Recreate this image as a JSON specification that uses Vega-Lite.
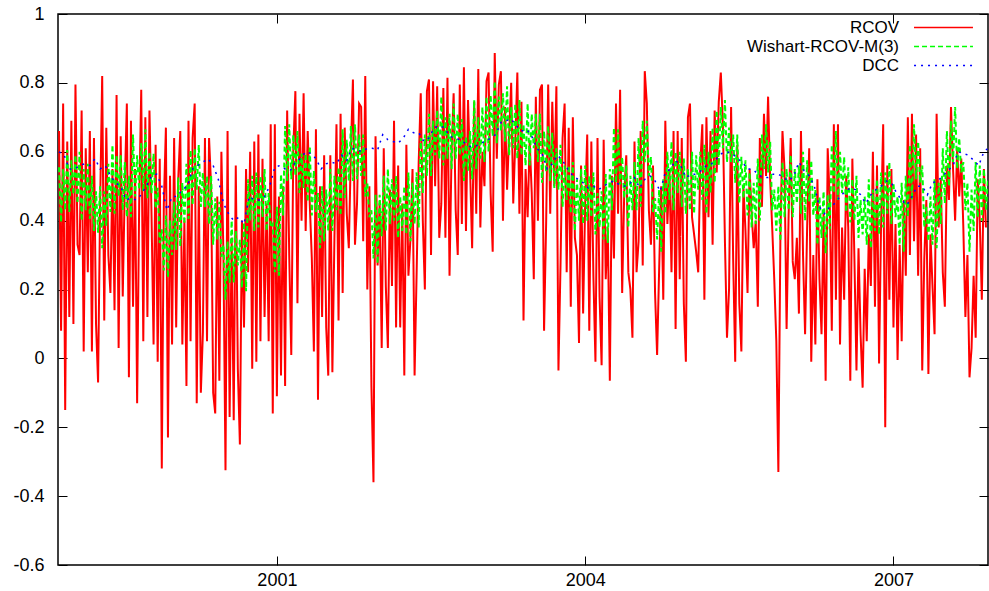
{
"$schema":"https://vega.github.io/schema/vega-lite/v6.json",
"width":930,"height":551,
"autosize":{"type":"none"},
"padding":{"left":58,"top":14,"right":1,"bottom":26},
"background":"white",
"config":{"view":{"stroke":"#000","strokeWidth":1.5},"font":"Liberation Sans"},
"datasets":{
"rcov":[
{"x":1998.88,"y":0.66},{"x":1998.9,"y":0.08},{"x":1998.92,"y":0.74},{"x":1998.94,"y":-0.15},{"x":1998.96,"y":0.63},{"x":1998.98,"y":0.12},{"x":1999.0,"y":0.69},{"x":1999.02,"y":0.1},{"x":1999.04,"y":0.795},{"x":1999.06,"y":0.33},
{"x":1999.08,"y":0.3},{"x":1999.1,"y":0.72},{"x":1999.12,"y":0.02},{"x":1999.14,"y":0.61},{"x":1999.16,"y":0.25},{"x":1999.18,"y":0.66},{"x":1999.2,"y":0.02},{"x":1999.22,"y":0.64},{"x":1999.24,"y":0.1},{"x":1999.26,"y":-0.07},
{"x":1999.28,"y":0.45},{"x":1999.3,"y":0.82},{"x":1999.32,"y":0.11},{"x":1999.34,"y":0.67},{"x":1999.36,"y":0.3},{"x":1999.38,"y":0.19},{"x":1999.4,"y":0.55},{"x":1999.42,"y":0.14},{"x":1999.44,"y":0.765},{"x":1999.46,"y":0.03},
{"x":1999.48,"y":0.645},{"x":1999.5,"y":0.18},{"x":1999.52,"y":0.5},{"x":1999.54,"y":0.74},{"x":1999.56,"y":-0.055},{"x":1999.58,"y":0.69},{"x":1999.6,"y":0.15},{"x":1999.62,"y":0.55},{"x":1999.64,"y":-0.13},{"x":1999.66,"y":0.45},
{"x":1999.68,"y":0.78},{"x":1999.7,"y":0.05},{"x":1999.72,"y":0.7},{"x":1999.74,"y":0.12},{"x":1999.76,"y":0.72},{"x":1999.78,"y":0.42},{"x":1999.8,"y":0.04},{"x":1999.82,"y":0.62},{"x":1999.84,"y":-0.01},{"x":1999.86,"y":0.58},
{"x":1999.88,"y":-0.32},{"x":1999.9,"y":0.45},{"x":1999.92,"y":0.67},{"x":1999.94,"y":-0.23},{"x":1999.96,"y":0.53},{"x":1999.98,"y":0.04},{"x":2000.0,"y":0.64},{"x":2000.02,"y":0.09},{"x":2000.04,"y":0.52},{"x":2000.06,"y":0.66},
{"x":2000.08,"y":0.04},{"x":2000.1,"y":0.4},{"x":2000.12,"y":-0.08},{"x":2000.14,"y":0.69},{"x":2000.16,"y":0.05},{"x":2000.18,"y":0.64},{"x":2000.2,"y":0.74},{"x":2000.22,"y":-0.13},{"x":2000.24,"y":0.5},{"x":2000.26,"y":-0.1},
{"x":2000.28,"y":0.075},{"x":2000.3,"y":0.64},{"x":2000.32,"y":0.05},{"x":2000.34,"y":0.64},{"x":2000.36,"y":0.5},{"x":2000.38,"y":-0.1},{"x":2000.4,"y":-0.16},{"x":2000.42,"y":0.47},{"x":2000.44,"y":-0.065},{"x":2000.46,"y":0.6},
{"x":2000.48,"y":0.3},{"x":2000.5,"y":-0.325},{"x":2000.52,"y":0.66},{"x":2000.54,"y":-0.17},{"x":2000.56,"y":0.35},{"x":2000.58,"y":-0.18},{"x":2000.6,"y":0.56},{"x":2000.62,"y":-0.03},{"x":2000.64,"y":-0.25},{"x":2000.66,"y":0.4},
{"x":2000.68,"y":0.09},{"x":2000.7,"y":0.55},{"x":2000.72,"y":0.25},{"x":2000.74,"y":0.6},{"x":2000.76,"y":-0.03},{"x":2000.78,"y":0.63},{"x":2000.8,"y":-0.01},{"x":2000.82,"y":0.65},{"x":2000.84,"y":0.05},{"x":2000.86,"y":0.58},
{"x":2000.88,"y":0.12},{"x":2000.9,"y":0.45},{"x":2000.92,"y":0.05},{"x":2000.94,"y":0.68},{"x":2000.96,"y":-0.16},{"x":2000.98,"y":0.68},{"x":2001.0,"y":-0.11},{"x":2001.02,"y":0.47},{"x":2001.04,"y":-0.05},{"x":2001.06,"y":0.5},
{"x":2001.08,"y":-0.08},{"x":2001.1,"y":0.72},{"x":2001.12,"y":0.3},{"x":2001.14,"y":0.01},{"x":2001.16,"y":0.61},{"x":2001.18,"y":0.776},{"x":2001.2,"y":0.16},{"x":2001.22,"y":0.71},{"x":2001.24,"y":0.4},{"x":2001.26,"y":0.77},
{"x":2001.28,"y":0.37},{"x":2001.3,"y":0.66},{"x":2001.32,"y":0.45},{"x":2001.34,"y":0.29},{"x":2001.36,"y":0.02},{"x":2001.38,"y":0.665},{"x":2001.4,"y":-0.12},{"x":2001.42,"y":0.5},{"x":2001.44,"y":0.12},{"x":2001.46,"y":0.59},
{"x":2001.48,"y":0.09},{"x":2001.5,"y":-0.05},{"x":2001.52,"y":0.59},{"x":2001.54,"y":-0.04},{"x":2001.56,"y":0.35},{"x":2001.58,"y":0.68},{"x":2001.6,"y":0.11},{"x":2001.62,"y":0.71},{"x":2001.64,"y":0.19},{"x":2001.66,"y":0.67},
{"x":2001.68,"y":0.42},{"x":2001.7,"y":0.32},{"x":2001.72,"y":0.6},{"x":2001.74,"y":0.81},{"x":2001.76,"y":0.33},{"x":2001.78,"y":0.45},{"x":2001.8,"y":0.74},{"x":2001.82,"y":0.73},{"x":2001.84,"y":0.34},{"x":2001.86,"y":0.82},
{"x":2001.88,"y":0.2},{"x":2001.9,"y":0.5},{"x":2001.92,"y":-0.08},{"x":2001.94,"y":-0.36},{"x":2001.96,"y":0.645},{"x":2001.98,"y":0.27},{"x":2002.0,"y":0.45},{"x":2002.02,"y":0.03},{"x":2002.04,"y":0.61},{"x":2002.06,"y":0.21},
{"x":2002.08,"y":0.03},{"x":2002.1,"y":0.49},{"x":2002.12,"y":0.21},{"x":2002.14,"y":0.69},{"x":2002.16,"y":0.09},{"x":2002.18,"y":0.56},{"x":2002.2,"y":0.09},{"x":2002.22,"y":0.45},{"x":2002.24,"y":-0.05},{"x":2002.26,"y":0.62},
{"x":2002.28,"y":0.24},{"x":2002.3,"y":0.35},{"x":2002.32,"y":0.55},{"x":2002.34,"y":-0.05},{"x":2002.36,"y":0.25},{"x":2002.38,"y":0.57},{"x":2002.4,"y":0.77},{"x":2002.42,"y":0.4},{"x":2002.44,"y":0.2},{"x":2002.46,"y":0.776},
{"x":2002.48,"y":0.81},{"x":2002.5,"y":0.3},{"x":2002.52,"y":0.805},{"x":2002.54,"y":0.5},{"x":2002.56,"y":0.79},{"x":2002.58,"y":0.35},{"x":2002.6,"y":0.45},{"x":2002.62,"y":0.785},{"x":2002.64,"y":0.35},{"x":2002.66,"y":0.815},
{"x":2002.68,"y":0.24},{"x":2002.7,"y":0.6},{"x":2002.72,"y":0.77},{"x":2002.74,"y":0.43},{"x":2002.76,"y":0.3},{"x":2002.78,"y":0.795},{"x":2002.8,"y":0.39},{"x":2002.82,"y":0.845},{"x":2002.84,"y":0.37},{"x":2002.86,"y":0.75},
{"x":2002.88,"y":0.55},{"x":2002.9,"y":0.32},{"x":2002.92,"y":0.745},{"x":2002.94,"y":0.42},{"x":2002.96,"y":0.84},{"x":2002.98,"y":0.38},{"x":2003.0,"y":0.6},{"x":2003.02,"y":0.5},{"x":2003.04,"y":0.805},{"x":2003.06,"y":0.83},
{"x":2003.08,"y":0.48},{"x":2003.1,"y":0.31},{"x":2003.12,"y":0.887},{"x":2003.14,"y":0.58},{"x":2003.16,"y":0.795},{"x":2003.18,"y":0.834},{"x":2003.2,"y":0.4},{"x":2003.22,"y":0.73},{"x":2003.24,"y":0.49},{"x":2003.26,"y":0.65},
{"x":2003.28,"y":0.8},{"x":2003.3,"y":0.45},{"x":2003.32,"y":0.63},{"x":2003.34,"y":0.83},{"x":2003.36,"y":0.42},{"x":2003.38,"y":0.745},{"x":2003.4,"y":0.11},{"x":2003.42,"y":0.55},{"x":2003.44,"y":0.41},{"x":2003.46,"y":0.63},
{"x":2003.48,"y":0.48},{"x":2003.5,"y":0.23},{"x":2003.52,"y":0.76},{"x":2003.54,"y":0.4},{"x":2003.56,"y":0.78},{"x":2003.58,"y":0.795},{"x":2003.6,"y":0.08},{"x":2003.62,"y":0.39},{"x":2003.64,"y":0.795},{"x":2003.66,"y":0.42},
{"x":2003.68,"y":0.745},{"x":2003.7,"y":0.5},{"x":2003.72,"y":0.79},{"x":2003.74,"y":-0.035},{"x":2003.76,"y":0.27},{"x":2003.78,"y":0.64},{"x":2003.8,"y":0.74},{"x":2003.82,"y":0.25},{"x":2003.84,"y":0.67},{"x":2003.86,"y":0.15},
{"x":2003.88,"y":0.7},{"x":2003.9,"y":0.35},{"x":2003.92,"y":0.3},{"x":2003.94,"y":0.045},{"x":2003.96,"y":0.56},{"x":2003.98,"y":0.13},{"x":2004.0,"y":0.45},{"x":2004.02,"y":0.65},{"x":2004.04,"y":0.08},{"x":2004.06,"y":0.63},
{"x":2004.08,"y":0.24},{"x":2004.1,"y":-0.01},{"x":2004.12,"y":0.64},{"x":2004.14,"y":0.18},{"x":2004.16,"y":-0.02},{"x":2004.18,"y":0.635},{"x":2004.2,"y":0.23},{"x":2004.22,"y":0.38},{"x":2004.24,"y":-0.065},{"x":2004.26,"y":0.53},
{"x":2004.28,"y":0.29},{"x":2004.3,"y":0.74},{"x":2004.32,"y":0.42},{"x":2004.34,"y":0.78},{"x":2004.36,"y":0.19},{"x":2004.38,"y":0.48},{"x":2004.4,"y":0.59},{"x":2004.42,"y":0.25},{"x":2004.44,"y":0.2},{"x":2004.46,"y":0.06},
{"x":2004.48,"y":0.63},{"x":2004.5,"y":0.25},{"x":2004.52,"y":0.34},{"x":2004.54,"y":0.66},{"x":2004.56,"y":0.27},{"x":2004.58,"y":0.834},{"x":2004.6,"y":0.74},{"x":2004.62,"y":0.43},{"x":2004.64,"y":0.33},{"x":2004.66,"y":0.56},
{"x":2004.68,"y":0.19},{"x":2004.7,"y":0.01},{"x":2004.72,"y":0.26},{"x":2004.74,"y":0.5},{"x":2004.76,"y":0.17},{"x":2004.78,"y":0.69},{"x":2004.8,"y":0.39},{"x":2004.82,"y":0.55},{"x":2004.84,"y":0.25},{"x":2004.86,"y":0.66},
{"x":2004.88,"y":0.085},{"x":2004.9,"y":0.66},{"x":2004.92,"y":0.23},{"x":2004.94,"y":0.64},{"x":2004.96,"y":0.16},{"x":2004.98,"y":-0.01},{"x":2005.0,"y":0.7},{"x":2005.02,"y":0.74},{"x":2005.04,"y":0.41},{"x":2005.06,"y":0.36},
{"x":2005.08,"y":0.31},{"x":2005.1,"y":0.25},{"x":2005.12,"y":0.56},{"x":2005.14,"y":0.68},{"x":2005.16,"y":0.17},{"x":2005.18,"y":0.7},{"x":2005.2,"y":0.41},{"x":2005.22,"y":0.66},{"x":2005.24,"y":0.33},{"x":2005.26,"y":0.72},
{"x":2005.28,"y":0.54},{"x":2005.3,"y":0.745},{"x":2005.32,"y":0.83},{"x":2005.34,"y":0.68},{"x":2005.36,"y":0.34},{"x":2005.38,"y":0.06},{"x":2005.4,"y":0.2},{"x":2005.42,"y":0.73},{"x":2005.44,"y":0.29},{"x":2005.46,"y":-0.01},
{"x":2005.48,"y":0.62},{"x":2005.5,"y":0.16},{"x":2005.52,"y":0.02},{"x":2005.54,"y":0.5},{"x":2005.56,"y":0.37},{"x":2005.58,"y":0.19},{"x":2005.6,"y":0.55},{"x":2005.62,"y":0.42},{"x":2005.64,"y":0.32},{"x":2005.66,"y":0.4},
{"x":2005.68,"y":0.15},{"x":2005.7,"y":0.64},{"x":2005.72,"y":0.44},{"x":2005.74,"y":0.71},{"x":2005.76,"y":0.53},{"x":2005.78,"y":0.76},{"x":2005.8,"y":0.52},{"x":2005.82,"y":0.38},{"x":2005.84,"y":0.23},{"x":2005.86,"y":0.05},
{"x":2005.88,"y":-0.33},{"x":2005.9,"y":0.36},{"x":2005.92,"y":0.66},{"x":2005.94,"y":0.55},{"x":2005.96,"y":0.085},{"x":2005.98,"y":0.42},{"x":2006.0,"y":0.64},{"x":2006.02,"y":0.28},{"x":2006.04,"y":0.23},{"x":2006.06,"y":0.35},
{"x":2006.08,"y":0.13},{"x":2006.1,"y":0.66},{"x":2006.12,"y":0.3},{"x":2006.14,"y":0.07},{"x":2006.16,"y":0.38},{"x":2006.18,"y":0.61},{"x":2006.2,"y":-0.01},{"x":2006.22,"y":0.3},{"x":2006.24,"y":0.04},{"x":2006.26,"y":0.52},
{"x":2006.28,"y":0.23},{"x":2006.3,"y":0.07},{"x":2006.32,"y":0.42},{"x":2006.34,"y":-0.065},{"x":2006.36,"y":0.61},{"x":2006.38,"y":0.46},{"x":2006.4,"y":0.08},{"x":2006.42,"y":0.68},{"x":2006.44,"y":0.17},{"x":2006.46,"y":0.68},
{"x":2006.48,"y":0.04},{"x":2006.5,"y":0.38},{"x":2006.52,"y":0.17},{"x":2006.54,"y":0.53},{"x":2006.56,"y":0.38},{"x":2006.58,"y":-0.065},{"x":2006.6,"y":0.58},{"x":2006.62,"y":0.29},{"x":2006.64,"y":-0.035},{"x":2006.66,"y":0.32},
{"x":2006.68,"y":0.07},{"x":2006.7,"y":-0.085},{"x":2006.72,"y":0.26},{"x":2006.74,"y":0.05},{"x":2006.76,"y":0.36},{"x":2006.78,"y":0.21},{"x":2006.8,"y":0.6},{"x":2006.82,"y":0.15},{"x":2006.84,"y":0.56},{"x":2006.86,"y":-0.015},
{"x":2006.88,"y":0.4},{"x":2006.9,"y":0.68},{"x":2006.92,"y":-0.2},{"x":2006.94,"y":0.56},{"x":2006.96,"y":0.17},{"x":2006.98,"y":0.55},{"x":2007.0,"y":0.09},{"x":2007.02,"y":0.39},{"x":2007.04,"y":-0.005},{"x":2007.06,"y":0.33},
{"x":2007.08,"y":0.05},{"x":2007.1,"y":0.46},{"x":2007.12,"y":0.24},{"x":2007.14,"y":0.7},{"x":2007.16,"y":0.3},{"x":2007.18,"y":0.71},{"x":2007.2,"y":0.34},{"x":2007.22,"y":0.65},{"x":2007.24,"y":0.24},{"x":2007.26,"y":0.61},
{"x":2007.28,"y":-0.035},{"x":2007.3,"y":0.29},{"x":2007.32,"y":0.46},{"x":2007.34,"y":-0.045},{"x":2007.36,"y":0.36},{"x":2007.38,"y":0.21},{"x":2007.4,"y":0.07},{"x":2007.42,"y":0.71},{"x":2007.44,"y":0.38},{"x":2007.46,"y":0.52},
{"x":2007.48,"y":0.25},{"x":2007.5,"y":0.15},{"x":2007.52,"y":0.56},{"x":2007.54,"y":0.46},{"x":2007.56,"y":0.73},{"x":2007.58,"y":0.55},{"x":2007.6,"y":0.4},{"x":2007.62,"y":0.61},{"x":2007.64,"y":0.47},{"x":2007.66,"y":0.58},
{"x":2007.68,"y":0.38},{"x":2007.7,"y":0.12},{"x":2007.72,"y":0.3},{"x":2007.74,"y":-0.055},{"x":2007.76,"y":0.03},{"x":2007.78,"y":0.24},{"x":2007.8,"y":0.06},{"x":2007.82,"y":0.52},{"x":2007.84,"y":0.4},{"x":2007.86,"y":0.17},
{"x":2007.88,"y":0.55},{"x":2007.9,"y":0.38}
],
"wish":[
{"x":1998.88,"y":0.555},{"x":1998.9,"y":0.395},{"x":1998.92,"y":0.55},{"x":1998.94,"y":0.43},{"x":1998.96,"y":0.605},{"x":1998.98,"y":0.425},
{"x":1999.0,"y":0.575},{"x":1999.02,"y":0.475},{"x":1999.04,"y":0.59},{"x":1999.06,"y":0.45},{"x":1999.08,"y":0.6},{"x":1999.1,"y":0.4},{"x":1999.12,"y":0.55},{"x":1999.14,"y":0.43},{"x":1999.16,"y":0.565},{"x":1999.18,"y":0.405},
{"x":1999.2,"y":0.53},{"x":1999.22,"y":0.37},{"x":1999.24,"y":0.485},{"x":1999.26,"y":0.365},{"x":1999.28,"y":0.5},{"x":1999.3,"y":0.32},{"x":1999.32,"y":0.485},{"x":1999.34,"y":0.385},{"x":1999.36,"y":0.565},{"x":1999.38,"y":0.425},
{"x":1999.4,"y":0.62},{"x":1999.42,"y":0.42},{"x":1999.44,"y":0.59},{"x":1999.46,"y":0.47},{"x":1999.48,"y":0.59},{"x":1999.5,"y":0.43},{"x":1999.52,"y":0.57},{"x":1999.54,"y":0.41},{"x":1999.56,"y":0.53},{"x":1999.58,"y":0.41},
{"x":1999.6,"y":0.65},{"x":1999.62,"y":0.47},{"x":1999.64,"y":0.59},{"x":1999.66,"y":0.49},{"x":1999.68,"y":0.625},{"x":1999.7,"y":0.485},{"x":1999.72,"y":0.665},{"x":1999.74,"y":0.465},{"x":1999.76,"y":0.6},{"x":1999.78,"y":0.48},
{"x":1999.8,"y":0.595},{"x":1999.82,"y":0.435},{"x":1999.84,"y":0.495},{"x":1999.86,"y":0.335},{"x":1999.88,"y":0.375},{"x":1999.9,"y":0.255},{"x":1999.92,"y":0.415},{"x":1999.94,"y":0.235},{"x":1999.96,"y":0.4},{"x":1999.98,"y":0.3},
{"x":2000.0,"y":0.455},{"x":2000.02,"y":0.315},{"x":2000.04,"y":0.525},{"x":2000.06,"y":0.325},{"x":2000.08,"y":0.51},{"x":2000.1,"y":0.39},{"x":2000.12,"y":0.565},{"x":2000.14,"y":0.405},{"x":2000.16,"y":0.605},{"x":2000.18,"y":0.445},
{"x":2000.2,"y":0.61},{"x":2000.22,"y":0.49},{"x":2000.24,"y":0.62},{"x":2000.26,"y":0.44},{"x":2000.28,"y":0.54},{"x":2000.3,"y":0.44},{"x":2000.32,"y":0.53},{"x":2000.34,"y":0.39},{"x":2000.36,"y":0.53},{"x":2000.38,"y":0.33},
{"x":2000.4,"y":0.465},{"x":2000.42,"y":0.345},{"x":2000.44,"y":0.455},{"x":2000.46,"y":0.295},{"x":2000.48,"y":0.33},{"x":2000.5,"y":0.17},{"x":2000.52,"y":0.34},{"x":2000.54,"y":0.22},{"x":2000.56,"y":0.4},{"x":2000.58,"y":0.22},
{"x":2000.6,"y":0.37},{"x":2000.62,"y":0.27},{"x":2000.64,"y":0.345},{"x":2000.66,"y":0.205},{"x":2000.68,"y":0.395},{"x":2000.7,"y":0.195},{"x":2000.72,"y":0.52},{"x":2000.74,"y":0.4},{"x":2000.76,"y":0.53},{"x":2000.78,"y":0.37},
{"x":2000.8,"y":0.54},{"x":2000.82,"y":0.38},{"x":2000.84,"y":0.53},{"x":2000.86,"y":0.41},{"x":2000.88,"y":0.55},{"x":2000.9,"y":0.37},{"x":2000.92,"y":0.48},{"x":2000.94,"y":0.38},{"x":2000.96,"y":0.39},{"x":2000.98,"y":0.25},
{"x":2001.0,"y":0.44},{"x":2001.02,"y":0.24},{"x":2001.04,"y":0.535},{"x":2001.06,"y":0.415},{"x":2001.08,"y":0.675},{"x":2001.1,"y":0.515},{"x":2001.12,"y":0.68},{"x":2001.14,"y":0.52},{"x":2001.16,"y":0.65},{"x":2001.18,"y":0.53},
{"x":2001.2,"y":0.66},{"x":2001.22,"y":0.48},{"x":2001.24,"y":0.595},{"x":2001.26,"y":0.495},{"x":2001.28,"y":0.595},{"x":2001.3,"y":0.455},{"x":2001.32,"y":0.615},{"x":2001.34,"y":0.415},{"x":2001.36,"y":0.545},{"x":2001.38,"y":0.425},
{"x":2001.4,"y":0.48},{"x":2001.42,"y":0.32},{"x":2001.44,"y":0.5},{"x":2001.46,"y":0.34},{"x":2001.48,"y":0.49},{"x":2001.5,"y":0.37},{"x":2001.52,"y":0.55},{"x":2001.54,"y":0.37},{"x":2001.56,"y":0.53},{"x":2001.58,"y":0.43},
{"x":2001.6,"y":0.555},{"x":2001.62,"y":0.415},{"x":2001.64,"y":0.665},{"x":2001.66,"y":0.465},{"x":2001.68,"y":0.635},{"x":2001.7,"y":0.515},{"x":2001.72,"y":0.675},{"x":2001.74,"y":0.515},{"x":2001.76,"y":0.68},{"x":2001.78,"y":0.52},
{"x":2001.8,"y":0.65},{"x":2001.82,"y":0.53},{"x":2001.84,"y":0.65},{"x":2001.86,"y":0.47},{"x":2001.88,"y":0.51},{"x":2001.9,"y":0.41},{"x":2001.92,"y":0.43},{"x":2001.94,"y":0.29},{"x":2001.96,"y":0.475},{"x":2001.98,"y":0.275},
{"x":2002.0,"y":0.475},{"x":2002.02,"y":0.355},{"x":2002.04,"y":0.53},{"x":2002.06,"y":0.37},{"x":2002.08,"y":0.55},{"x":2002.1,"y":0.39},{"x":2002.12,"y":0.52},{"x":2002.14,"y":0.4},{"x":2002.16,"y":0.53},{"x":2002.18,"y":0.35},
{"x":2002.2,"y":0.47},{"x":2002.22,"y":0.37},{"x":2002.24,"y":0.5},{"x":2002.26,"y":0.36},{"x":2002.28,"y":0.54},{"x":2002.3,"y":0.34},{"x":2002.32,"y":0.51},{"x":2002.34,"y":0.39},{"x":2002.36,"y":0.54},{"x":2002.38,"y":0.38},
{"x":2002.4,"y":0.64},{"x":2002.42,"y":0.48},{"x":2002.44,"y":0.65},{"x":2002.46,"y":0.53},{"x":2002.48,"y":0.71},{"x":2002.5,"y":0.53},{"x":2002.52,"y":0.69},{"x":2002.54,"y":0.59},{"x":2002.56,"y":0.72},{"x":2002.58,"y":0.58},
{"x":2002.6,"y":0.76},{"x":2002.62,"y":0.56},{"x":2002.64,"y":0.7},{"x":2002.66,"y":0.58},{"x":2002.68,"y":0.71},{"x":2002.7,"y":0.55},{"x":2002.72,"y":0.74},{"x":2002.74,"y":0.58},{"x":2002.76,"y":0.71},{"x":2002.78,"y":0.59},
{"x":2002.8,"y":0.695},{"x":2002.82,"y":0.515},{"x":2002.84,"y":0.645},{"x":2002.86,"y":0.545},{"x":2002.88,"y":0.66},{"x":2002.9,"y":0.52},{"x":2002.92,"y":0.75},{"x":2002.94,"y":0.55},{"x":2002.96,"y":0.7},{"x":2002.98,"y":0.58},
{"x":2003.0,"y":0.73},{"x":2003.02,"y":0.57},{"x":2003.04,"y":0.76},{"x":2003.06,"y":0.6},{"x":2003.08,"y":0.765},{"x":2003.1,"y":0.645},{"x":2003.12,"y":0.805},{"x":2003.14,"y":0.625},{"x":2003.16,"y":0.76},{"x":2003.18,"y":0.66},
{"x":2003.2,"y":0.77},{"x":2003.22,"y":0.63},{"x":2003.24,"y":0.79},{"x":2003.26,"y":0.59},{"x":2003.28,"y":0.73},{"x":2003.3,"y":0.61},{"x":2003.32,"y":0.74},{"x":2003.34,"y":0.58},{"x":2003.36,"y":0.75},{"x":2003.38,"y":0.59},
{"x":2003.4,"y":0.68},{"x":2003.42,"y":0.56},{"x":2003.44,"y":0.74},{"x":2003.46,"y":0.56},{"x":2003.48,"y":0.71},{"x":2003.5,"y":0.61},{"x":2003.52,"y":0.71},{"x":2003.54,"y":0.57},{"x":2003.56,"y":0.71},{"x":2003.58,"y":0.51},
{"x":2003.6,"y":0.66},{"x":2003.62,"y":0.54},{"x":2003.64,"y":0.675},{"x":2003.66,"y":0.515},{"x":2003.68,"y":0.655},{"x":2003.7,"y":0.495},{"x":2003.72,"y":0.61},{"x":2003.74,"y":0.49},{"x":2003.76,"y":0.62},{"x":2003.78,"y":0.44},
{"x":2003.8,"y":0.56},{"x":2003.82,"y":0.46},{"x":2003.84,"y":0.56},{"x":2003.86,"y":0.42},{"x":2003.88,"y":0.57},{"x":2003.9,"y":0.37},{"x":2003.92,"y":0.52},{"x":2003.94,"y":0.4},{"x":2003.96,"y":0.55},{"x":2003.98,"y":0.39},
{"x":2004.0,"y":0.56},{"x":2004.02,"y":0.4},{"x":2004.04,"y":0.53},{"x":2004.06,"y":0.41},{"x":2004.08,"y":0.54},{"x":2004.1,"y":0.36},{"x":2004.12,"y":0.48},{"x":2004.14,"y":0.38},{"x":2004.16,"y":0.485},{"x":2004.18,"y":0.345},
{"x":2004.2,"y":0.535},{"x":2004.22,"y":0.335},{"x":2004.24,"y":0.55},{"x":2004.26,"y":0.43},{"x":2004.28,"y":0.67},{"x":2004.3,"y":0.51},{"x":2004.32,"y":0.665},{"x":2004.34,"y":0.505},{"x":2004.36,"y":0.585},{"x":2004.38,"y":0.465},
{"x":2004.4,"y":0.56},{"x":2004.42,"y":0.38},{"x":2004.44,"y":0.53},{"x":2004.46,"y":0.43},{"x":2004.48,"y":0.57},{"x":2004.5,"y":0.43},{"x":2004.52,"y":0.64},{"x":2004.54,"y":0.44},{"x":2004.56,"y":0.69},{"x":2004.58,"y":0.57},
{"x":2004.6,"y":0.69},{"x":2004.62,"y":0.53},{"x":2004.64,"y":0.585},{"x":2004.66,"y":0.425},{"x":2004.68,"y":0.465},{"x":2004.7,"y":0.345},{"x":2004.72,"y":0.49},{"x":2004.74,"y":0.31},{"x":2004.76,"y":0.52},{"x":2004.78,"y":0.42},
{"x":2004.8,"y":0.6},{"x":2004.82,"y":0.46},{"x":2004.84,"y":0.63},{"x":2004.86,"y":0.43},{"x":2004.88,"y":0.6},{"x":2004.9,"y":0.48},{"x":2004.92,"y":0.6},{"x":2004.94,"y":0.44},{"x":2004.96,"y":0.58},{"x":2004.98,"y":0.42},
{"x":2005.0,"y":0.55},{"x":2005.02,"y":0.43},{"x":2005.04,"y":0.6},{"x":2005.06,"y":0.42},{"x":2005.08,"y":0.59},{"x":2005.1,"y":0.49},{"x":2005.12,"y":0.6},{"x":2005.14,"y":0.46},{"x":2005.16,"y":0.62},{"x":2005.18,"y":0.42},
{"x":2005.2,"y":0.6},{"x":2005.22,"y":0.48},{"x":2005.24,"y":0.67},{"x":2005.26,"y":0.51},{"x":2005.28,"y":0.72},{"x":2005.3,"y":0.56},{"x":2005.32,"y":0.73},{"x":2005.34,"y":0.61},{"x":2005.36,"y":0.75},{"x":2005.38,"y":0.57},
{"x":2005.4,"y":0.67},{"x":2005.42,"y":0.57},{"x":2005.44,"y":0.65},{"x":2005.46,"y":0.51},{"x":2005.48,"y":0.65},{"x":2005.5,"y":0.45},{"x":2005.52,"y":0.585},{"x":2005.54,"y":0.465},{"x":2005.56,"y":0.575},{"x":2005.58,"y":0.415},
{"x":2005.6,"y":0.54},{"x":2005.62,"y":0.38},{"x":2005.64,"y":0.51},{"x":2005.66,"y":0.39},{"x":2005.68,"y":0.58},{"x":2005.7,"y":0.4},{"x":2005.72,"y":0.65},{"x":2005.74,"y":0.55},{"x":2005.76,"y":0.68},{"x":2005.78,"y":0.54},
{"x":2005.8,"y":0.63},{"x":2005.82,"y":0.43},{"x":2005.84,"y":0.49},{"x":2005.86,"y":0.37},{"x":2005.88,"y":0.5},{"x":2005.9,"y":0.34},{"x":2005.92,"y":0.57},{"x":2005.94,"y":0.41},{"x":2005.96,"y":0.55},{"x":2005.98,"y":0.43},
{"x":2006.0,"y":0.59},{"x":2006.02,"y":0.41},{"x":2006.04,"y":0.55},{"x":2006.06,"y":0.45},{"x":2006.08,"y":0.56},{"x":2006.1,"y":0.42},{"x":2006.12,"y":0.6},{"x":2006.14,"y":0.4},{"x":2006.16,"y":0.575},{"x":2006.18,"y":0.455},
{"x":2006.2,"y":0.575},{"x":2006.22,"y":0.415},{"x":2006.24,"y":0.49},{"x":2006.26,"y":0.33},{"x":2006.28,"y":0.47},{"x":2006.3,"y":0.35},{"x":2006.32,"y":0.485},{"x":2006.34,"y":0.305},{"x":2006.36,"y":0.475},{"x":2006.38,"y":0.375},
{"x":2006.4,"y":0.62},{"x":2006.42,"y":0.48},{"x":2006.44,"y":0.66},{"x":2006.46,"y":0.46},{"x":2006.48,"y":0.6},{"x":2006.5,"y":0.48},{"x":2006.52,"y":0.585},{"x":2006.54,"y":0.425},{"x":2006.56,"y":0.555},{"x":2006.58,"y":0.395},
{"x":2006.6,"y":0.52},{"x":2006.62,"y":0.4},{"x":2006.64,"y":0.53},{"x":2006.66,"y":0.35},{"x":2006.68,"y":0.46},{"x":2006.7,"y":0.36},{"x":2006.72,"y":0.47},{"x":2006.74,"y":0.33},{"x":2006.76,"y":0.52},{"x":2006.78,"y":0.32},
{"x":2006.8,"y":0.49},{"x":2006.82,"y":0.37},{"x":2006.84,"y":0.52},{"x":2006.86,"y":0.36},{"x":2006.88,"y":0.54},{"x":2006.9,"y":0.38},{"x":2006.92,"y":0.54},{"x":2006.94,"y":0.42},{"x":2006.96,"y":0.57},{"x":2006.98,"y":0.39},
{"x":2007.0,"y":0.51},{"x":2007.02,"y":0.41},{"x":2007.04,"y":0.47},{"x":2007.06,"y":0.33},{"x":2007.08,"y":0.51},{"x":2007.1,"y":0.31},{"x":2007.12,"y":0.53},{"x":2007.14,"y":0.41},{"x":2007.16,"y":0.62},{"x":2007.18,"y":0.46},
{"x":2007.2,"y":0.68},{"x":2007.22,"y":0.52},{"x":2007.24,"y":0.63},{"x":2007.26,"y":0.51},{"x":2007.28,"y":0.56},{"x":2007.3,"y":0.38},{"x":2007.32,"y":0.44},{"x":2007.34,"y":0.34},{"x":2007.36,"y":0.47},{"x":2007.38,"y":0.33},
{"x":2007.4,"y":0.52},{"x":2007.42,"y":0.32},{"x":2007.44,"y":0.51},{"x":2007.46,"y":0.39},{"x":2007.48,"y":0.61},{"x":2007.5,"y":0.45},{"x":2007.52,"y":0.66},{"x":2007.54,"y":0.5},{"x":2007.56,"y":0.69},{"x":2007.58,"y":0.57},
{"x":2007.6,"y":0.73},{"x":2007.62,"y":0.55},{"x":2007.64,"y":0.64},{"x":2007.66,"y":0.54},{"x":2007.68,"y":0.57},{"x":2007.7,"y":0.43},{"x":2007.72,"y":0.51},{"x":2007.74,"y":0.31},{"x":2007.76,"y":0.49},{"x":2007.78,"y":0.37},
{"x":2007.8,"y":0.57},{"x":2007.82,"y":0.41},{"x":2007.84,"y":0.56},{"x":2007.86,"y":0.4},{"x":2007.88,"y":0.55},{"x":2007.9,"y":0.43},{"x":2007.92,"y":0.52}
],
"dcc":[
{"x":1998.88,"y":0.6},{"x":1998.93,"y":0.59},{"x":1998.98,"y":0.55},{"x":1999.03,"y":0.55},{"x":1999.08,"y":0.56},{"x":1999.13,"y":0.565},{"x":1999.18,"y":0.56},{"x":1999.23,"y":0.58},{"x":1999.28,"y":0.55},{"x":1999.33,"y":0.56},
{"x":1999.38,"y":0.53},{"x":1999.43,"y":0.51},{"x":1999.48,"y":0.5},{"x":1999.53,"y":0.46},{"x":1999.58,"y":0.465},{"x":1999.63,"y":0.46},{"x":1999.68,"y":0.475},{"x":1999.73,"y":0.5},{"x":1999.78,"y":0.53},{"x":1999.83,"y":0.535},
{"x":1999.88,"y":0.5},{"x":1999.93,"y":0.43},{"x":1999.98,"y":0.47},{"x":2000.03,"y":0.47},{"x":2000.08,"y":0.49},{"x":2000.13,"y":0.5},{"x":2000.18,"y":0.55},{"x":2000.23,"y":0.56},{"x":2000.28,"y":0.57},{"x":2000.33,"y":0.58},
{"x":2000.38,"y":0.56},{"x":2000.43,"y":0.52},{"x":2000.48,"y":0.45},{"x":2000.53,"y":0.42},{"x":2000.58,"y":0.4},{"x":2000.63,"y":0.41},{"x":2000.68,"y":0.39},{"x":2000.73,"y":0.47},{"x":2000.78,"y":0.46},{"x":2000.83,"y":0.46},
{"x":2000.88,"y":0.47},{"x":2000.93,"y":0.5},{"x":2000.98,"y":0.555},{"x":2001.03,"y":0.56},{"x":2001.08,"y":0.55},{"x":2001.13,"y":0.545},{"x":2001.18,"y":0.57},{"x":2001.23,"y":0.58},{"x":2001.28,"y":0.6},{"x":2001.33,"y":0.595},
{"x":2001.38,"y":0.58},{"x":2001.43,"y":0.55},{"x":2001.48,"y":0.565},{"x":2001.53,"y":0.57},{"x":2001.58,"y":0.565},{"x":2001.63,"y":0.59},{"x":2001.68,"y":0.575},{"x":2001.73,"y":0.61},{"x":2001.78,"y":0.605},{"x":2001.83,"y":0.6},
{"x":2001.88,"y":0.61},{"x":2001.93,"y":0.61},{"x":2001.98,"y":0.605},{"x":2002.03,"y":0.65},{"x":2002.08,"y":0.635},{"x":2002.13,"y":0.63},{"x":2002.18,"y":0.625},{"x":2002.23,"y":0.64},{"x":2002.28,"y":0.665},{"x":2002.33,"y":0.655},
{"x":2002.38,"y":0.655},{"x":2002.43,"y":0.63},{"x":2002.48,"y":0.64},{"x":2002.53,"y":0.67},{"x":2002.58,"y":0.675},{"x":2002.63,"y":0.67},{"x":2002.68,"y":0.645},{"x":2002.73,"y":0.64},{"x":2002.78,"y":0.635},{"x":2002.83,"y":0.625},
{"x":2002.88,"y":0.615},{"x":2002.93,"y":0.615},{"x":2002.98,"y":0.625},{"x":2003.03,"y":0.63},{"x":2003.08,"y":0.64},{"x":2003.13,"y":0.65},{"x":2003.18,"y":0.685},{"x":2003.23,"y":0.69},{"x":2003.28,"y":0.695},{"x":2003.33,"y":0.675},
{"x":2003.38,"y":0.66},{"x":2003.43,"y":0.665},{"x":2003.48,"y":0.645},{"x":2003.53,"y":0.61},{"x":2003.58,"y":0.595},{"x":2003.63,"y":0.55},{"x":2003.68,"y":0.565},{"x":2003.73,"y":0.59},{"x":2003.78,"y":0.575},{"x":2003.83,"y":0.55},
{"x":2003.88,"y":0.53},{"x":2003.93,"y":0.52},{"x":2003.98,"y":0.51},{"x":2004.03,"y":0.495},{"x":2004.08,"y":0.5},{"x":2004.13,"y":0.49},{"x":2004.18,"y":0.5},{"x":2004.23,"y":0.51},{"x":2004.28,"y":0.515},{"x":2004.33,"y":0.505},
{"x":2004.38,"y":0.5},{"x":2004.43,"y":0.505},{"x":2004.48,"y":0.525},{"x":2004.53,"y":0.495},{"x":2004.58,"y":0.52},{"x":2004.63,"y":0.53},{"x":2004.68,"y":0.515},{"x":2004.73,"y":0.485},{"x":2004.78,"y":0.54},{"x":2004.83,"y":0.55},
{"x":2004.88,"y":0.575},{"x":2004.93,"y":0.56},{"x":2004.98,"y":0.525},{"x":2005.03,"y":0.535},{"x":2005.08,"y":0.535},{"x":2005.13,"y":0.545},{"x":2005.18,"y":0.56},{"x":2005.23,"y":0.565},{"x":2005.28,"y":0.58},{"x":2005.33,"y":0.595},
{"x":2005.38,"y":0.6},{"x":2005.43,"y":0.595},{"x":2005.48,"y":0.58},{"x":2005.53,"y":0.57},{"x":2005.58,"y":0.55},{"x":2005.63,"y":0.55},{"x":2005.68,"y":0.535},{"x":2005.73,"y":0.525},{"x":2005.78,"y":0.525},{"x":2005.83,"y":0.535},
{"x":2005.88,"y":0.535},{"x":2005.93,"y":0.525},{"x":2005.98,"y":0.515},{"x":2006.03,"y":0.53},{"x":2006.08,"y":0.57},{"x":2006.13,"y":0.545},{"x":2006.18,"y":0.53},{"x":2006.23,"y":0.5},{"x":2006.28,"y":0.44},{"x":2006.33,"y":0.42},
{"x":2006.38,"y":0.44},{"x":2006.43,"y":0.45},{"x":2006.48,"y":0.47},{"x":2006.53,"y":0.485},{"x":2006.58,"y":0.495},{"x":2006.63,"y":0.49},{"x":2006.68,"y":0.475},{"x":2006.73,"y":0.45},{"x":2006.78,"y":0.475},{"x":2006.83,"y":0.49},
{"x":2006.88,"y":0.5},{"x":2006.93,"y":0.515},{"x":2006.98,"y":0.51},{"x":2007.03,"y":0.48},{"x":2007.08,"y":0.46},{"x":2007.13,"y":0.445},{"x":2007.18,"y":0.47},{"x":2007.23,"y":0.5},{"x":2007.28,"y":0.5},{"x":2007.33,"y":0.475},
{"x":2007.38,"y":0.51},{"x":2007.43,"y":0.515},{"x":2007.48,"y":0.53},{"x":2007.53,"y":0.545},{"x":2007.58,"y":0.56},{"x":2007.63,"y":0.6},{"x":2007.68,"y":0.595},{"x":2007.73,"y":0.59},{"x":2007.78,"y":0.575},{"x":2007.83,"y":0.56},
{"x":2007.88,"y":0.6},{"x":2007.92,"y":0.61}
]
},
"layer":[
{"data":{"name":"rcov"},
 "mark":{"type":"line","strokeWidth":2,"clip":true},
 "encoding":{
  "x":{"field":"x","type":"quantitative","scale":{"domain":[1998.87,2007.92],"nice":false,"zero":false},
   "axis":{"orient":"bottom","values":[2001,2004,2007],"labelExpr":"'' + datum.value","tickSize":-9,"tickColor":"#000","tickWidth":1,"labelPadding":15,"domain":false,"grid":false,"title":null,"labelFont":"Liberation Sans","labelFontSize":18,"labelColor":"#000","labelFlush":false,"labelOverlap":false}},
  "y":{"field":"y","type":"quantitative","scale":{"domain":[-0.6,1],"nice":false,"zero":false},
   "axis":{"orient":"left","values":[-0.6,-0.4,-0.2,0,0.2,0.4,0.6,0.8,1],"labelExpr":"'' + datum.value","tickSize":-9,"tickColor":"#000","tickWidth":1,"labelPadding":23,"domain":false,"grid":false,"title":null,"labelFont":"Liberation Sans","labelFontSize":18,"labelColor":"#000","labelFlush":false,"labelOverlap":false}},
  "color":{"datum":"RCOV","type":"nominal","scale":{"domain":["RCOV","Wishart-RCOV-M(3)","DCC"],"range":["#ff0000","#00ff00","#0000ff"]},
   "legend":{"title":null,"orient":"none","legendX":877,"legendY":5,"symbolType":"M-5,0H5","symbolSize":139,"symbolStrokeWidth":1.5,"labelFont":"Liberation Sans","labelFontSize":17,"labelColor":"#000","labelAlign":"right","labelOffset":-53,"labelLimit":400,"rowPadding":1}},
  "strokeDash":{"datum":"RCOV","type":"nominal","scale":{"domain":["RCOV","Wishart-RCOV-M(3)","DCC"],"range":[[1,0],[5,3],[2,5]]},
   "legend":{"title":null,"orient":"none","legendX":877,"legendY":5,"symbolType":"M-5,0H5","symbolSize":139,"symbolStrokeWidth":1.5,"labelFont":"Liberation Sans","labelFontSize":17,"labelColor":"#000","labelAlign":"right","labelOffset":-53,"labelLimit":400,"rowPadding":1}}
 }},
{"data":{"name":"wish"},
 "mark":{"type":"line","strokeWidth":2,"clip":true},
 "encoding":{
  "x":{"field":"x","type":"quantitative","axis":{"orient":"top","values":[2001,2004,2007],"labels":false,"tickSize":-9,"tickColor":"#000","tickWidth":1,"domain":false,"grid":false,"title":null}},
  "y":{"field":"y","type":"quantitative","axis":{"orient":"right","values":[-0.6,-0.4,-0.2,0,0.2,0.4,0.6,0.8,1],"labels":false,"tickSize":-9,"tickColor":"#000","tickWidth":1,"domain":false,"grid":false,"title":null}},
  "color":{"datum":"Wishart-RCOV-M(3)","type":"nominal"},
  "strokeDash":{"datum":"Wishart-RCOV-M(3)","type":"nominal"}
 }},
{"data":{"name":"dcc"},
 "mark":{"type":"line","strokeWidth":1.5,"clip":true},
 "encoding":{
  "x":{"field":"x","type":"quantitative","axis":null},
  "y":{"field":"y","type":"quantitative","axis":null},
  "color":{"datum":"DCC","type":"nominal"},
  "strokeDash":{"datum":"DCC","type":"nominal"}
 }}
],
"resolve":{"axis":{"x":"independent","y":"independent"}}
}
